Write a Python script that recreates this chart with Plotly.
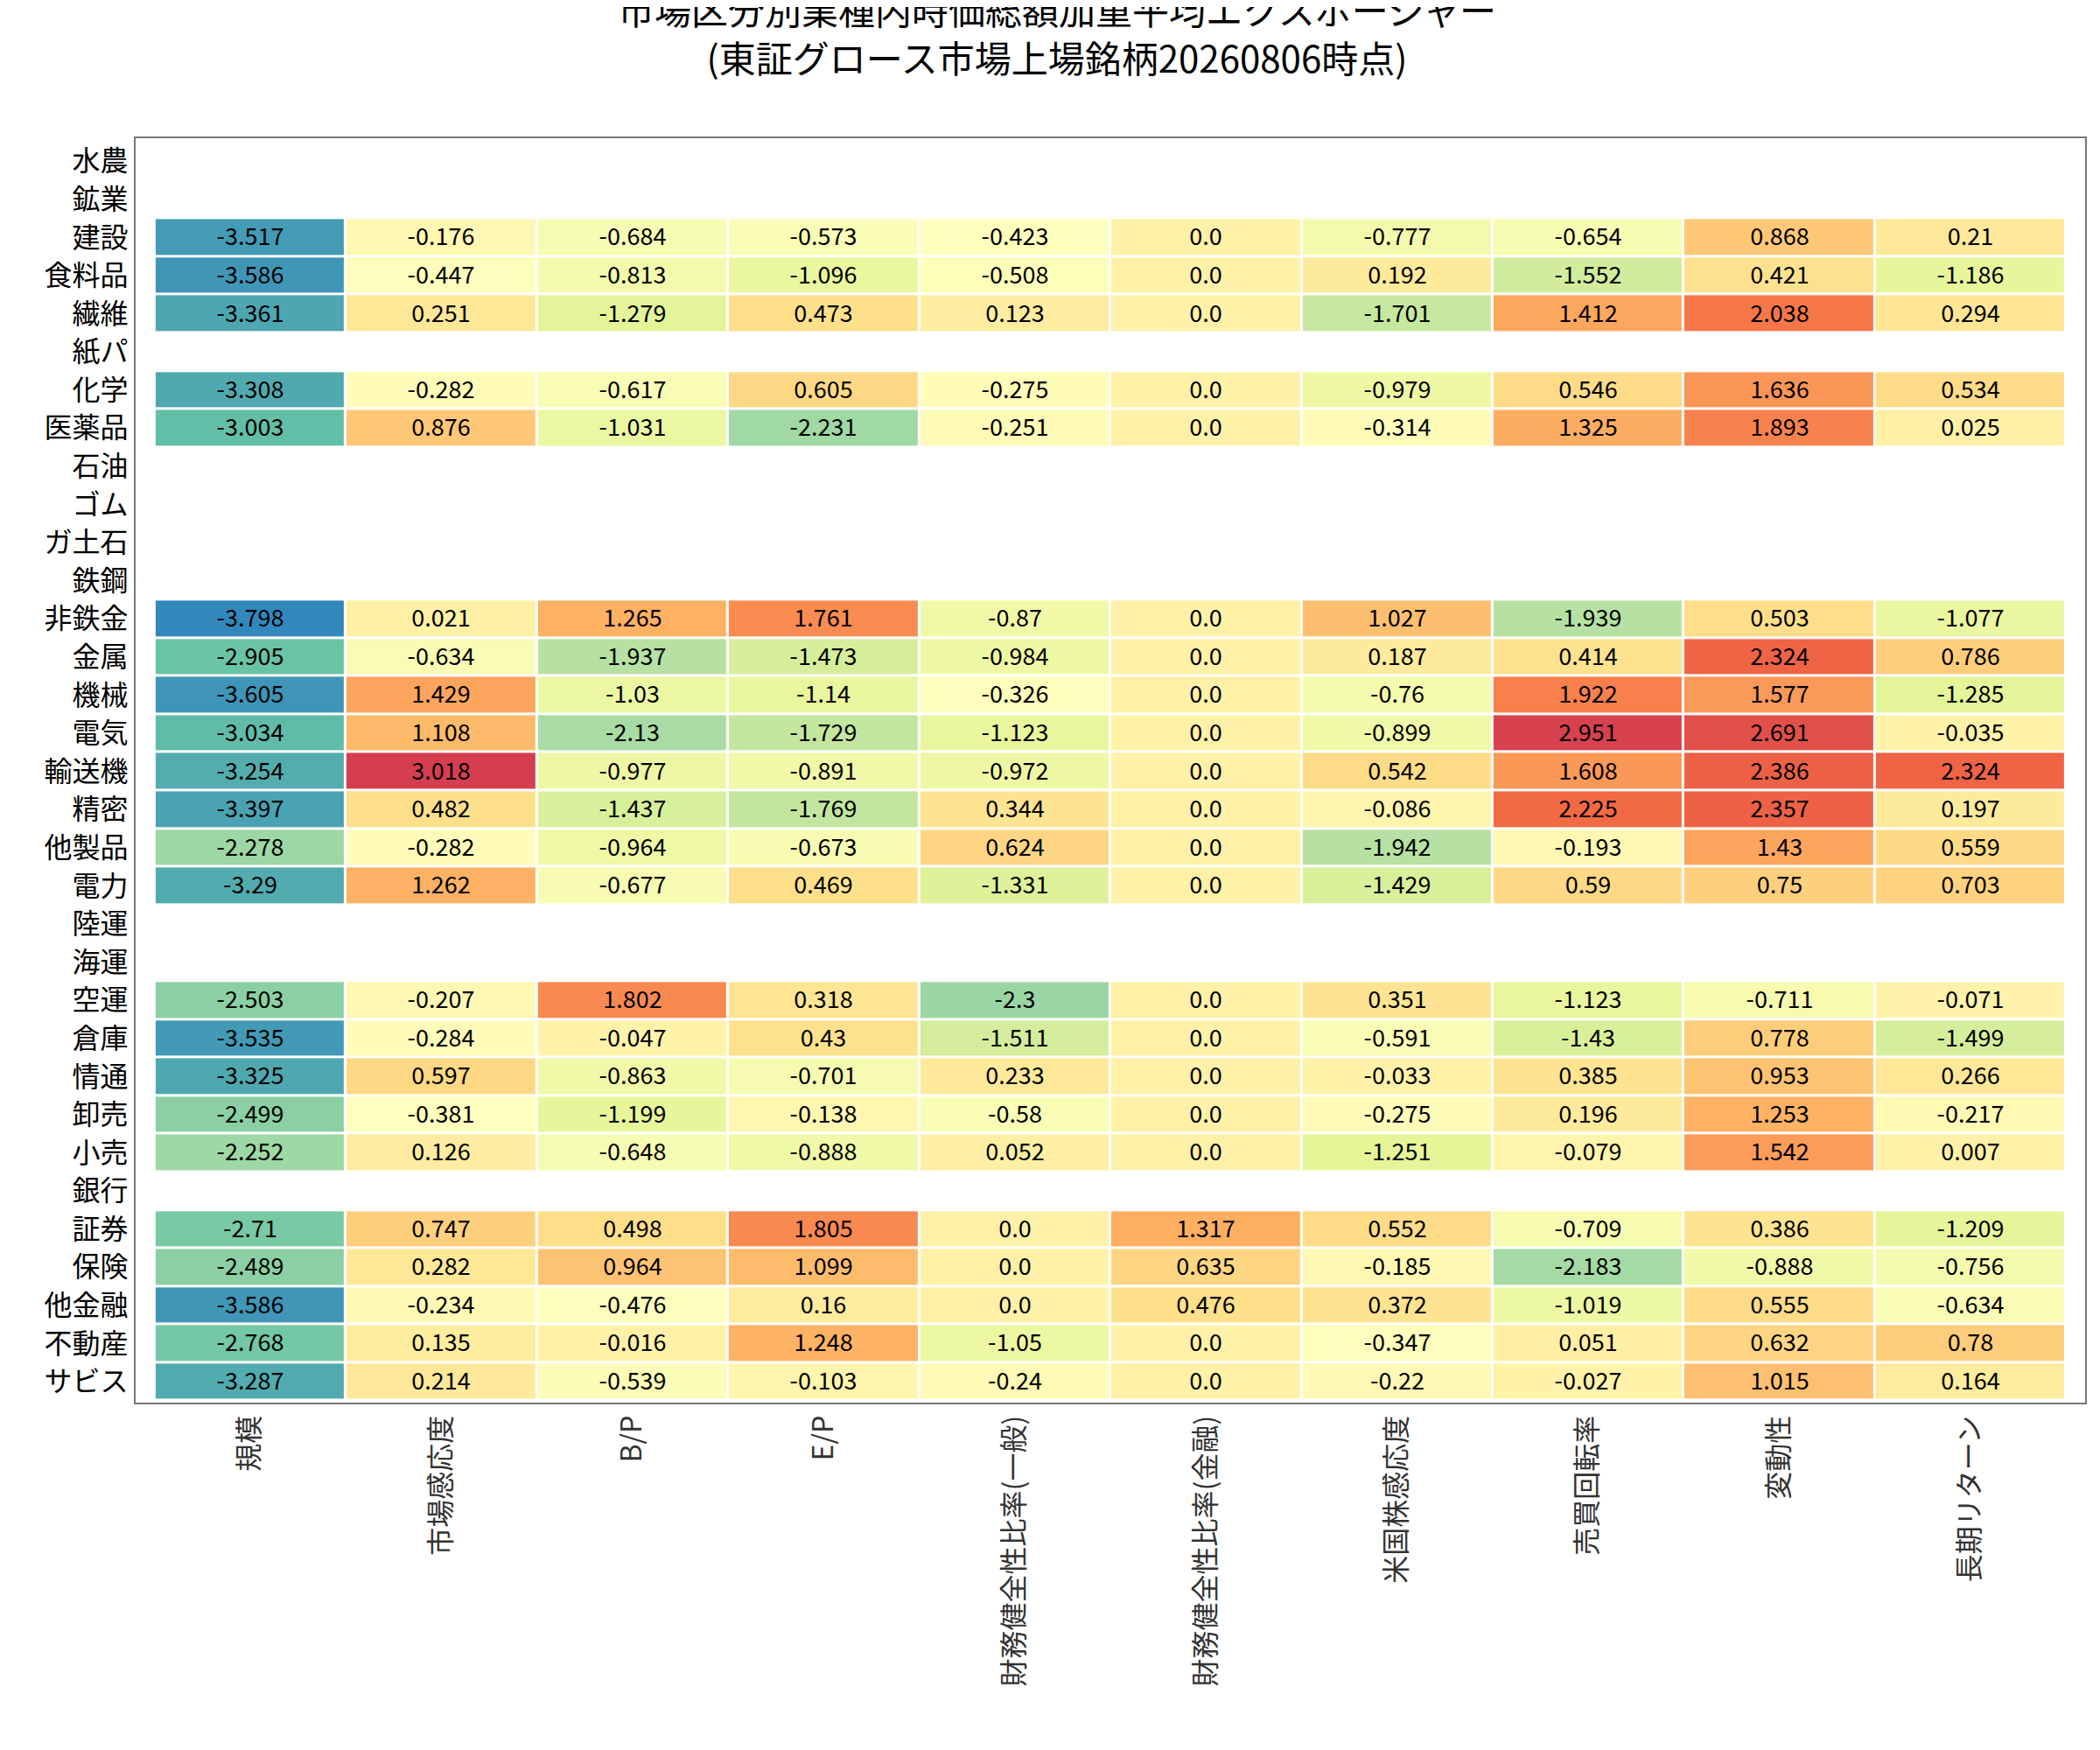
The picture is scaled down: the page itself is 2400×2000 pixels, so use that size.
import plotly.graph_objects as go
import plotly.express as px

sectors = ["水農", "鉱業", "建設", "食料品", "繊維", "紙パ", "化学", "医薬品", "石油", "ゴム", "ガ土石", "鉄鋼",
           "非鉄金", "金属", "機械", "電気", "輸送機", "精密", "他製品", "電力", "陸運", "海運", "空運", "倉庫",
           "情通", "卸売", "小売", "銀行", "証券", "保険", "他金融", "不動産", "サビス"]
factors = ["規模", "市場感応度", "B/P", "E/P", "財務健全性比率(一般)", "財務健全性比率(金融)",
           "米国株感応度", "売買回転率", "変動性", "長期リターン"]

N = None
values = [
    [N] * 10,
    [N] * 10,
    [-3.517, -0.176, -0.684, -0.573, -0.423, 0.0, -0.777, -0.654, 0.868, 0.21],
    [-3.586, -0.447, -0.813, -1.096, -0.508, 0.0, 0.192, -1.552, 0.421, -1.186],
    [-3.361, 0.251, -1.279, 0.473, 0.123, 0.0, -1.701, 1.412, 2.038, 0.294],
    [N] * 10,
    [-3.308, -0.282, -0.617, 0.605, -0.275, 0.0, -0.979, 0.546, 1.636, 0.534],
    [-3.003, 0.876, -1.031, -2.231, -0.251, 0.0, -0.314, 1.325, 1.893, 0.025],
    [N] * 10,
    [N] * 10,
    [N] * 10,
    [N] * 10,
    [-3.798, 0.021, 1.265, 1.761, -0.87, 0.0, 1.027, -1.939, 0.503, -1.077],
    [-2.905, -0.634, -1.937, -1.473, -0.984, 0.0, 0.187, 0.414, 2.324, 0.786],
    [-3.605, 1.429, -1.03, -1.14, -0.326, 0.0, -0.76, 1.922, 1.577, -1.285],
    [-3.034, 1.108, -2.13, -1.729, -1.123, 0.0, -0.899, 2.951, 2.691, -0.035],
    [-3.254, 3.018, -0.977, -0.891, -0.972, 0.0, 0.542, 1.608, 2.386, 2.324],
    [-3.397, 0.482, -1.437, -1.769, 0.344, 0.0, -0.086, 2.225, 2.357, 0.197],
    [-2.278, -0.282, -0.964, -0.673, 0.624, 0.0, -1.942, -0.193, 1.43, 0.559],
    [-3.29, 1.262, -0.677, 0.469, -1.331, 0.0, -1.429, 0.59, 0.75, 0.703],
    [N] * 10,
    [N] * 10,
    [-2.503, -0.207, 1.802, 0.318, -2.3, 0.0, 0.351, -1.123, -0.711, -0.071],
    [-3.535, -0.284, -0.047, 0.43, -1.511, 0.0, -0.591, -1.43, 0.778, -1.499],
    [-3.325, 0.597, -0.863, -0.701, 0.233, 0.0, -0.033, 0.385, 0.953, 0.266],
    [-2.499, -0.381, -1.199, -0.138, -0.58, 0.0, -0.275, 0.196, 1.253, -0.217],
    [-2.252, 0.126, -0.648, -0.888, 0.052, 0.0, -1.251, -0.079, 1.542, 0.007],
    [N] * 10,
    [-2.71, 0.747, 0.498, 1.805, 0.0, 1.317, 0.552, -0.709, 0.386, -1.209],
    [-2.489, 0.282, 0.964, 1.099, 0.0, 0.635, -0.185, -2.183, -0.888, -0.756],
    [-3.586, -0.234, -0.476, 0.16, 0.0, 0.476, 0.372, -1.019, 0.555, -0.634],
    [-2.768, 0.135, -0.016, 1.248, -1.05, 0.0, -0.347, 0.051, 0.632, 0.78],
    [-3.287, 0.214, -0.539, -0.103, -0.24, 0.0, -0.22, -0.027, 1.015, 0.164],
]

text = [["" if v is None else str(v) for v in row] for row in values]
colors = px.colors.diverging.Spectral[1:-1][::-1]

fig = go.Figure(go.Heatmap(
    z=values, x=factors, y=sectors, text=text, texttemplate="%{text}",
    textfont=dict(size=27, color="black"),
    colorscale=colors, zmin=-3.798, zmax=3.018, showscale=False,
    xgap=3, ygap=3, hoverongaps=False,
))
fig.update_layout(
    width=2400, height=2000, plot_bgcolor="white", paper_bgcolor="white",
    font=dict(family="Noto Sans CJK JP", size=32, color="#333"),
    title=dict(text="市場区分別業種内時価総額加重平均エクスポージャー<br>(東証グロース市場上場銘柄20260806時点)",
               x=0.5, xanchor="center", y=0.99, yanchor="top", font=dict(size=42, color="black")),
    margin=dict(l=147, r=25, t=150, b=405),
)
fig.update_xaxes(tickangle=-90, range=[-0.6, 9.6], showline=True, linecolor="#777", mirror=True,
                 linewidth=2, ticks="", showgrid=False, tickfont=dict(size=32))
fig.update_yaxes(range=[32.55, -0.6], showline=True, linecolor="#777", mirror=True,
                 linewidth=2, ticks="", showgrid=False, tickfont=dict(size=32, color="black"))
fig.write_html("out.html")
